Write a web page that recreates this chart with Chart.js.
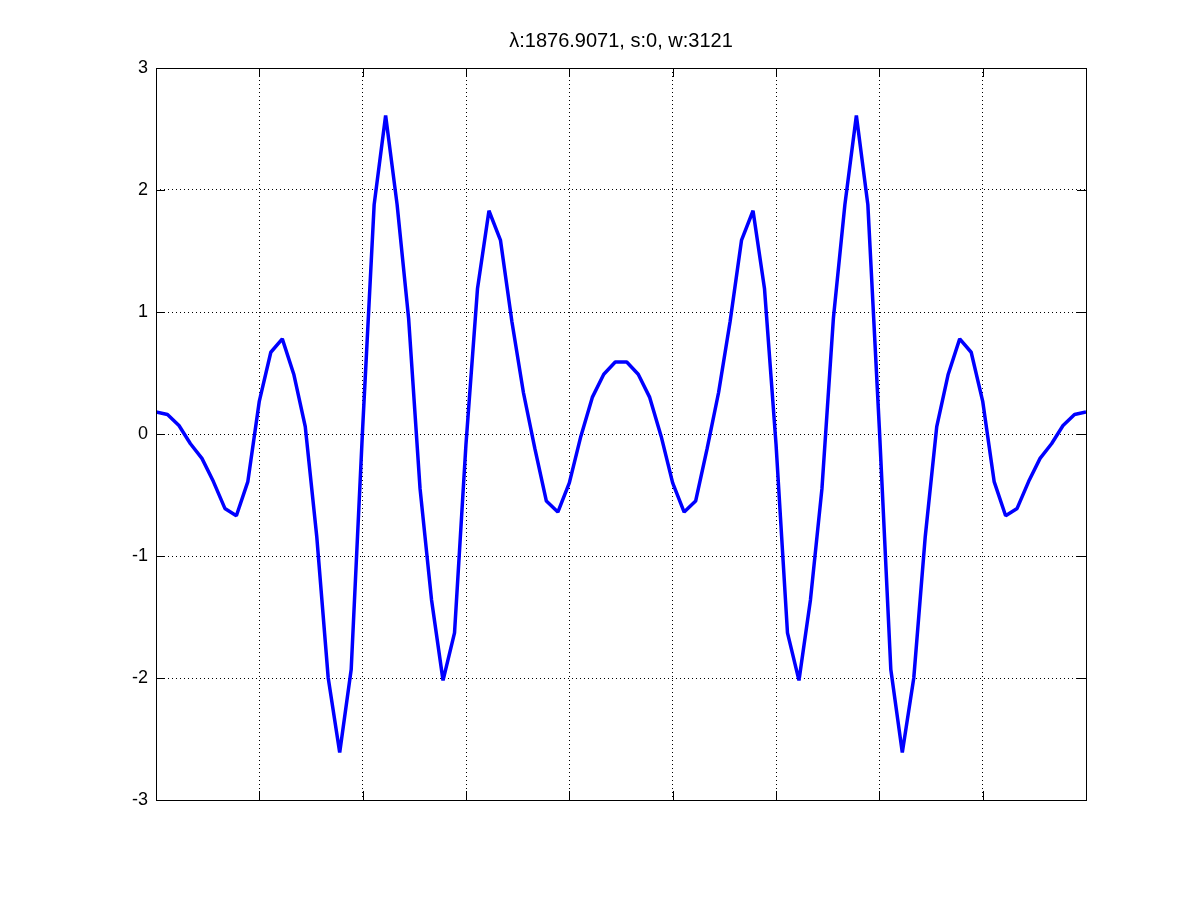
<!DOCTYPE html>
<html>
<head>
<meta charset="utf-8">
<title>λ:1876.9071, s:0, w:3121</title>
<script src="https://cdn.jsdelivr.net/npm/chart.js@4"></script>
<style>
    html, body { margin: 0; padding: 0; background: #fff; }
    canvas { display: block; }
</style>
</head>
<body>
<canvas id="waveChart" width="1200" height="900"></canvas>
<script>
// Data (82 samples, index 0..81)
const titleText = 'λ:1876.9071, s:0, w:3121';
const waveValues = [
    0.18, 0.16, 0.07, -0.08, -0.20, -0.39, -0.61, -0.67, -0.39, 0.27,
    0.67, 0.78, 0.49, 0.06, -0.84, -2.00, -2.61, -1.93, 0.05, 1.88,
    2.61, 1.88, 0.95, -0.45, -1.36, -2.02, -1.63, -0.08, 1.19, 1.83,
    1.59, 0.92, 0.34, -0.12, -0.55, -0.64, -0.40, -0.02, 0.30, 0.49,
    0.59, 0.59, 0.49, 0.30, -0.02, -0.40, -0.64, -0.55, -0.12, 0.34,
    0.92, 1.59, 1.83, 1.19, -0.08, -1.63, -2.02, -1.36, -0.45, 0.95,
    1.88, 2.61, 1.88, 0.05, -1.93, -2.61, -2.00, -0.84, 0.06, 0.49,
    0.78, 0.67, 0.27, -0.39, -0.67, -0.61, -0.39, -0.20, -0.08, 0.07,
    0.16, 0.18
];
const yTicks = [-3, -2, -1, 0, 1, 2, 3];
const xRange = [0, 81];
const xStep = 9;

const points = waveValues.map((v, i) => ({ x: i, y: v }));
const fontFamily = '"Liberation Sans", Arial, Helvetica, sans-serif';

// Box round the plot and MATLAB style inward tick marks
const boxAndTicks = {
    id: 'boxAndTicks',
    afterDraw(chart) {
        const { ctx, chartArea: a, scales } = chart;
        const len = 9;
        ctx.save();
        ctx.strokeStyle = '#000';
        ctx.lineWidth = 1;
        ctx.setLineDash([]);
        ctx.strokeRect(Math.round(a.left) + 0.5, Math.round(a.top) + 0.5,
            Math.round(a.right - a.left), Math.round(a.bottom - a.top));
        ctx.beginPath();
        scales.y.ticks.forEach(t => {
            const y = Math.round(scales.y.getPixelForValue(t.value)) + 0.5;
            ctx.moveTo(a.left, y); ctx.lineTo(a.left + len, y);
            ctx.moveTo(a.right, y); ctx.lineTo(a.right - len, y);
        });
        scales.x.ticks.forEach(t => {
            const x = Math.round(scales.x.getPixelForValue(t.value)) + 0.5;
            ctx.moveTo(x, a.top); ctx.lineTo(x, a.top + len);
            ctx.moveTo(x, a.bottom); ctx.lineTo(x, a.bottom - len);
        });
        ctx.stroke();
        ctx.restore();
    }
};

const ctx = document.getElementById('waveChart').getContext('2d');
new Chart(ctx, {
    type: 'line',
    data: {
        datasets: [{
            data: points,
            borderColor: '#0000ff',
            borderWidth: 3.5,
            borderJoinStyle: 'bevel',
            pointRadius: 0,
            tension: 0,
            fill: false
        }]
    },
    options: {
        responsive: false,
        animation: false,
        devicePixelRatio: 1,
        layout: { padding: { left: 0, top: 0, right: 114, bottom: 100 } },
        plugins: {
            legend: { display: false },
            tooltip: { enabled: false },
            title: {
                display: true,
                fullSize: false,
                text: titleText,
                color: '#000',
                font: { family: fontFamily, size: 20, weight: 'normal' },
                padding: { top: 29, bottom: 15 }
            }
        },
        scales: {
            x: {
                type: 'linear',
                min: xRange[0],
                max: xRange[1],
                ticks: { display: false, stepSize: xStep },
                grid: { color: '#000', lineWidth: 1, drawTicks: false },
                border: { display: false, dash: [1, 3] },
                afterFit(scale) { scale.height = 0; }
            },
            y: {
                min: yTicks[0],
                max: yTicks[yTicks.length - 1],
                afterBuildTicks(scale) { scale.ticks = yTicks.map(v => ({ value: v })); },
                ticks: {
                    color: '#000',
                    padding: 8,
                    font: { family: fontFamily, size: 18 }
                },
                grid: { color: '#000', lineWidth: 1, drawTicks: false },
                border: { display: false, dash: [1, 3] },
                afterFit(scale) { scale.width = 156; }
            }
        }
    },
    plugins: [boxAndTicks]
});
</script>
</body>
</html>
